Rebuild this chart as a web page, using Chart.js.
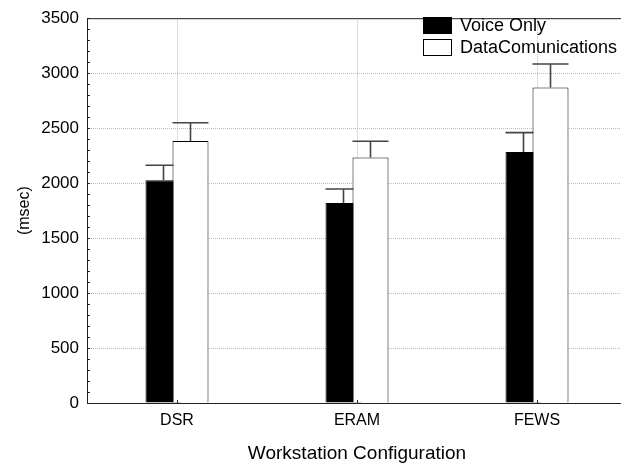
<!DOCTYPE html>
<html>
<head>
<meta charset="utf-8">
<script src="https://cdn.jsdelivr.net/npm/chart.js@4.4.1/dist/chart.umd.min.js"></script>
<style>
  html, body { margin: 0; padding: 0; background: #fff; overflow: hidden; }
  #wrap { position: relative; width: 640px; height: 465px; }
</style>
</head>
<body>
<div id="wrap"><canvas id="chart"></canvas></div>
<script>
// datos
const categories = ['DSR', 'ERAM', 'FEWS'];
const voiceOnly = [2025, 1819, 2282];
const voiceOnlyErr = [2163, 1947, 2459];
const dataComm = [2384, 2232, 2869];
const dataCommErr = [2549, 2381, 3084];
const yTicks = [0, 500, 1000, 1500, 2000, 2500, 3000, 3500];

const FONT = 'Liberation Sans, Arial, Helvetica, sans-serif';

// barras de error (solo hacia arriba)
function drawErrors(chart, meta) {
  const ds = chart.data.datasets[meta.index];
  if (!ds.errTop) return;
  const ctx = chart.ctx;
  const y = chart.scales.y;
  ctx.save();
  ctx.strokeStyle = '#444';
  ctx.lineWidth = 1.6;
  meta.data.forEach((bar, i) => {
    const top = y.getPixelForValue(ds.errTop[i]);
    const half = bar.width / 2;
    ctx.beginPath();
    ctx.moveTo(bar.x, bar.y);
    ctx.lineTo(bar.x, top);
    ctx.moveTo(bar.x - half, top);
    ctx.lineTo(bar.x + half, top);
    ctx.stroke();
  });
  ctx.restore();
}

// Chart.js pinta la primera serie encima; aqui se pinta en orden para que
// la barra blanca quede sobre la negra
const drawInOrder = {
  id: 'drawInOrder',
  beforeDatasetsDraw(chart) {
    chart.getSortedVisibleDatasetMetas().forEach(meta => {
      meta.controller.draw();
      drawErrors(chart, meta);
    });
    return false;
  }
};

// marco, ticks hacia dentro y leyenda
const frame = {
  id: 'frame',
  afterDraw(chart) {
    const ctx = chart.ctx;
    const a = chart.chartArea;
    const y = chart.scales.y;
    const x = chart.scales.x;
    ctx.save();
    ctx.strokeStyle = '#222';
    ctx.lineWidth = 1;
    ctx.beginPath();
    ctx.moveTo(a.left + 0.5, a.top + 0.5);
    ctx.lineTo(a.right, a.top + 0.5);
    ctx.moveTo(a.left + 0.5, a.top);
    ctx.lineTo(a.left + 0.5, a.bottom + 0.5);
    ctx.lineTo(a.right, a.bottom + 0.5);
    ctx.stroke();
    ctx.beginPath();
    for (let v = 0; v <= 3500; v += 100) {
      const py = Math.round(y.getPixelForValue(v)) + 0.5;
      ctx.moveTo(a.left, py);
      ctx.lineTo(a.left + 3, py);
    }
    categories.forEach((c, i) => {
      const px = Math.round(x.getPixelForValue(i)) + 0.5;
      ctx.moveTo(px, a.bottom);
      ctx.lineTo(px, a.bottom - 3);
    });
    ctx.stroke();

    // leyenda
    const items = [
      { label: 'Voice Only', fill: '#000' },
      { label: 'DataComunications', fill: '#fff' }
    ];
    ctx.font = '18px ' + FONT;
    ctx.textBaseline = 'middle';
    items.forEach((it, i) => {
      const top = 17 + i * 22;
      ctx.fillStyle = it.fill;
      ctx.fillRect(423, top, 29, 17);
      ctx.strokeStyle = '#000';
      ctx.strokeRect(423.5, top + 0.5, 28, 16);
      ctx.fillStyle = '#000';
      ctx.fillText(it.label, 460, top + 9);
    });
    ctx.restore();
  }
};

const gridColor = '#bbb';

new Chart(document.getElementById('chart'), {
  type: 'bar',
  data: {
    labels: categories,
    datasets: [
      {
        label: 'Voice Only',
        data: voiceOnly,
        errTop: voiceOnlyErr,
        backgroundColor: '#000',
        borderColor: '#000',
        borderWidth: 1
      },
      {
        label: 'DataComunications',
        data: dataComm,
        errTop: dataCommErr,
        backgroundColor: '#fff',
        borderColor: '#000',
        borderWidth: 1
      }
    ]
  },
  options: {
    responsive: true,
    maintainAspectRatio: false,
    animation: false,
    categoryPercentage: 0.3,
    barPercentage: 1.333,
    layout: { padding: { top: 13, right: 13, left: 0, bottom: 0 } },
    plugins: {
      legend: { display: false },
      tooltip: { enabled: false }
    },
    scales: {
      x: {
        grid: {
          offset: false,
          color: gridColor,
          drawTicks: false,
          lineWidth: 1
        },
        border: { display: false, dash: [1, 1] },
        ticks: {
          color: '#000',
          font: { family: FONT, size: 16 },
          padding: 8
        },
        title: {
          display: true,
          text: 'Workstation Configuration',
          color: '#000',
          font: { family: FONT, size: 19 },
          padding: { top: 5, bottom: 0 }
        },
        afterFit(scale) { scale.height = 62; }
      },
      y: {
        min: 0,
        max: 3500,
        afterBuildTicks(scale) { scale.ticks = yTicks.map(v => ({ value: v })); },
        grid: {
          color: gridColor,
          drawTicks: false,
          lineWidth: 1
        },
        border: { display: false, dash: [1, 1] },
        ticks: {
          color: '#000',
          font: { family: FONT, size: 17 },
          padding: 8,
          callback: v => String(v)
        },
        title: {
          display: true,
          text: '(msec)',
          color: '#000',
          font: { family: FONT, size: 16 },
          padding: { top: 15, bottom: 0 }
        },
        afterFit(scale) { scale.width = 87; }
      }
    }
  },
  plugins: [drawInOrder, frame]
});
</script>
</body>
</html>
